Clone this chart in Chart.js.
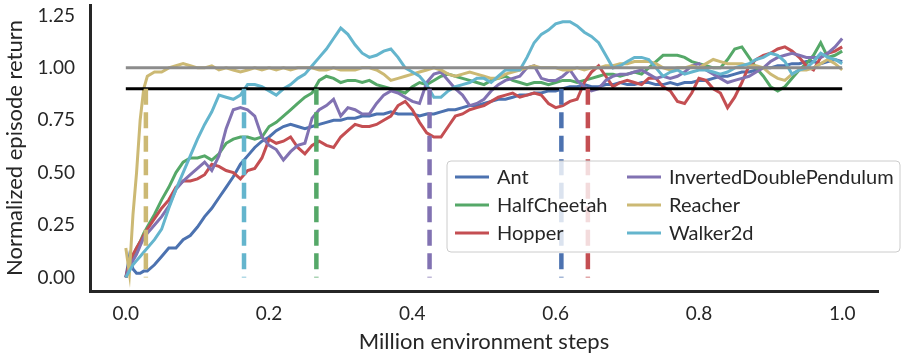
<!DOCTYPE html>
<html>
<head>
<meta charset="utf-8">
<script src="https://cdn.jsdelivr.net/npm/chart.js@4/dist/chart.umd.min.js"></script>
<style>
  html, body { margin: 0; padding: 0; background: #fff; }
  #wrap { width: 903px; height: 357px; position: relative; }
</style>
</head>
<body>
<div id="wrap"><canvas id="chart" width="903" height="357"></canvas></div>
<script>
// ==== DATA ====
const steps = [0, 0.005, 0.01, 0.015, 0.02, 0.025, 0.03,
  0.04, 0.05, 0.06, 0.07, 0.08, 0.09, 0.10, 0.11, 0.12, 0.13, 0.14, 0.15, 0.16, 0.17, 0.18, 0.19,
  0.20, 0.21, 0.22, 0.23, 0.24, 0.25, 0.26, 0.27, 0.28, 0.29, 0.30, 0.31, 0.32, 0.33, 0.34, 0.35,
  0.36, 0.37, 0.38, 0.39, 0.40, 0.41, 0.42, 0.43, 0.44, 0.45, 0.46, 0.47, 0.48, 0.49, 0.50, 0.51,
  0.52, 0.53, 0.54, 0.55, 0.56, 0.57, 0.58, 0.59, 0.60, 0.61, 0.62, 0.63, 0.64, 0.65, 0.66, 0.67,
  0.68, 0.69, 0.70, 0.71, 0.72, 0.73, 0.74, 0.75, 0.76, 0.77, 0.78, 0.79, 0.80, 0.81, 0.82, 0.83,
  0.84, 0.85, 0.86, 0.87, 0.88, 0.89, 0.90, 0.91, 0.92, 0.93, 0.94, 0.95, 0.96, 0.97, 0.98, 0.99, 1.00];

const ant = [0.00, 0.10, 0.04, 0.02, 0.02, 0.03, 0.03,
  0.06, 0.10, 0.14, 0.14, 0.18, 0.20, 0.24, 0.29, 0.33, 0.38, 0.43, 0.48, 0.54, 0.58, 0.62, 0.65,
  0.67, 0.70, 0.72, 0.73, 0.72, 0.71, 0.72, 0.73, 0.74, 0.75, 0.75, 0.76, 0.76, 0.77, 0.77, 0.78,
  0.78, 0.79, 0.78, 0.78, 0.78, 0.77, 0.78, 0.78, 0.79, 0.80, 0.80, 0.81, 0.82, 0.82, 0.83, 0.84,
  0.85, 0.85, 0.86, 0.87, 0.87, 0.88, 0.88, 0.89, 0.89, 0.90, 0.91, 0.91, 0.92, 0.91, 0.91, 0.92,
  0.92, 0.93, 0.92, 0.92, 0.93, 0.93, 0.92, 0.92, 0.93, 0.92, 0.93, 0.93, 0.94, 0.94, 0.95, 0.96,
  0.96, 0.97, 0.98, 0.98, 0.99, 1.00, 1.00, 1.01, 1.01, 1.02, 1.02, 1.03, 1.03, 1.02, 1.03, 1.04, 1.03];

const halfCheetah = [0.00, 0.04, 0.10, 0.14, 0.17, 0.21, 0.24,
  0.30, 0.37, 0.43, 0.50, 0.55, 0.57, 0.57, 0.58, 0.56, 0.59, 0.64, 0.66, 0.67, 0.67, 0.66, 0.67,
  0.72, 0.74, 0.77, 0.80, 0.83, 0.86, 0.88, 0.94, 0.96, 0.95, 0.93, 0.94, 0.94, 0.93, 0.94, 0.92,
  0.91, 0.90, 0.89, 0.88, 0.91, 0.93, 0.92, 0.94, 0.96, 0.97, 0.96, 0.95, 0.94, 0.93, 0.92, 0.94,
  0.95, 0.96, 0.94, 0.93, 0.92, 0.93, 0.93, 0.92, 0.93, 0.94, 0.94, 0.93, 0.94, 0.95, 0.96, 0.97,
  0.97, 0.96, 0.97, 0.98, 0.97, 1.00, 1.03, 1.06, 1.06, 1.06, 1.05, 1.03, 1.02, 1.01, 1.00, 1.00,
  1.04, 1.09, 1.10, 1.05, 1.00, 0.96, 0.91, 0.89, 0.91, 0.95, 0.99, 1.02, 1.06, 1.12, 1.05, 1.06, 1.08];

const hopper = [0.00, 0.07, 0.11, 0.14, 0.17, 0.20, 0.23,
  0.28, 0.33, 0.37, 0.43, 0.46, 0.46, 0.47, 0.49, 0.54, 0.53, 0.51, 0.50, 0.47, 0.51, 0.52, 0.57,
  0.66, 0.64, 0.65, 0.67, 0.62, 0.59, 0.63, 0.65, 0.63, 0.62, 0.67, 0.70, 0.73, 0.72, 0.72, 0.73,
  0.75, 0.77, 0.82, 0.84, 0.80, 0.74, 0.69, 0.67, 0.67, 0.72, 0.77, 0.78, 0.80, 0.81, 0.82, 0.84,
  0.86, 0.87, 0.88, 0.86, 0.87, 0.88, 0.87, 0.83, 0.81, 0.82, 0.84, 0.85, 0.93, 0.98, 1.01, 0.96,
  0.91, 0.93, 0.94, 0.93, 0.92, 0.95, 0.95, 0.91, 0.89, 0.84, 0.83, 0.88, 0.95, 0.94, 0.90, 0.88,
  0.81, 0.86, 0.93, 1.01, 1.04, 1.06, 1.07, 1.09, 1.10, 1.08, 1.05, 1.01, 0.99, 1.05, 1.07, 1.08, 1.10];

const invertedDoublePendulum = [0.00, 0.05, 0.08, 0.11, 0.15, 0.19, 0.21,
  0.25, 0.29, 0.34, 0.42, 0.46, 0.49, 0.52, 0.55, 0.51, 0.58, 0.71, 0.80, 0.81, 0.80, 0.77, 0.67,
  0.63, 0.61, 0.56, 0.60, 0.63, 0.64, 0.76, 0.80, 0.82, 0.85, 0.77, 0.81, 0.80, 0.78, 0.78, 0.83,
  0.87, 0.89, 0.88, 0.86, 0.84, 0.83, 0.93, 0.97, 0.98, 0.94, 0.90, 0.87, 0.82, 0.83, 0.85, 0.89,
  0.92, 0.94, 0.95, 0.96, 1.00, 1.01, 0.95, 0.94, 0.94, 0.96, 0.99, 0.94, 0.91, 0.89, 0.90, 0.94,
  0.96, 0.97, 0.97, 0.98, 0.99, 0.97, 0.95, 0.96, 0.95, 0.96, 0.98, 1.01, 1.02, 0.99, 0.97, 0.95,
  0.93, 0.94, 0.95, 0.96, 0.98, 1.00, 1.03, 1.05, 1.06, 1.07, 1.06, 1.05, 1.05, 1.05, 1.07, 1.10, 1.14];

const reacher = [0.14, 0.02, 0.30, 0.50, 0.75, 0.90, 0.96,
  0.98, 0.98, 1.00, 1.01, 1.02, 1.01, 1.00, 1.00, 1.01, 0.99, 1.00, 0.99, 0.98, 0.99, 1.00, 0.99,
  1.00, 0.99, 1.00, 0.99, 1.00, 1.00, 1.00, 0.99, 0.99, 1.00, 0.99, 0.99, 0.99, 1.00, 1.00, 0.99,
  0.97, 0.94, 0.95, 0.96, 0.97, 0.98, 0.99, 1.00, 0.99, 0.97, 0.96, 0.97, 0.98, 0.97, 0.96, 0.95,
  0.95, 0.97, 0.98, 0.99, 1.00, 1.01, 1.00, 1.00, 1.00, 0.99, 0.99, 1.00, 0.99, 1.00, 1.00, 1.01,
  1.01, 1.02, 1.02, 1.03, 1.03, 1.03, 1.02, 1.00, 0.99, 1.00, 1.00, 1.01, 1.00, 1.02, 1.04, 1.03,
  1.02, 1.02, 1.02, 1.01, 1.01, 1.00, 0.97, 0.95, 0.94, 0.97, 0.99, 0.99, 1.00, 1.02, 1.04, 1.02, 0.99];

const walker2d = [0.00, 0.03, 0.06, 0.08, 0.10, 0.12, 0.14,
  0.18, 0.23, 0.33, 0.42, 0.50, 0.58, 0.66, 0.73, 0.79, 0.87, 0.86, 0.85, 0.87, 0.92, 0.92, 0.91,
  0.89, 0.87, 0.90, 0.92, 0.95, 0.97, 1.01, 1.05, 1.09, 1.14, 1.19, 1.16, 1.11, 1.07, 1.05, 1.06,
  1.08, 1.09, 1.05, 1.00, 0.98, 0.96, 0.92, 0.86, 0.86, 0.89, 0.91, 0.92, 0.93, 0.95, 0.95, 0.93,
  0.96, 0.99, 0.99, 0.99, 1.05, 1.12, 1.16, 1.18, 1.21, 1.22, 1.22, 1.20, 1.17, 1.15, 1.12, 1.06,
  1.00, 1.01, 1.03, 1.05, 1.05, 1.04, 1.00, 0.96, 0.98, 0.99, 0.97, 0.98, 0.99, 0.99, 0.98, 0.97,
  0.98, 1.00, 1.01, 1.02, 1.04, 1.05, 1.07, 1.06, 1.03, 0.97, 0.99, 1.00, 1.03, 1.07, 1.05, 1.04, 1.02];

const envNames  = ['Ant', 'HalfCheetah', 'Hopper', 'InvertedDoublePendulum', 'Reacher', 'Walker2d'];
const envColors = ['#4C72B0', '#55A868', '#C44E52', '#8172B2', '#CCB974', '#64B5CD'];
const envSeries = [ant, halfCheetah, hopper, invertedDoublePendulum, reacher, walker2d];

// step at which each env first reaches 90% of final return (dashed markers)
const reach90 = [0.608, 0.645, 0.424, 0.266, 0.165, 0.028];
const reach90Names = ['Ant', 'Hopper', 'InvertedDoublePendulum', 'HalfCheetah', 'Walker2d', 'Reacher'];

const refLevels = [1.0, 0.9];
const refColors = ['#8c8c8c', '#000000'];

const xTicks = [0.0, 0.2, 0.4, 0.6, 0.8, 1.0];
const yTicks = [0.00, 0.25, 0.50, 0.75, 1.00, 1.25];

// ==== DATASETS ====
const FONT = 'Lato';
const TEXT = '#262626';
const datasets = [];

envSeries.forEach((vals, i) => {
  datasets.push({
    label: envNames[i],
    data: vals.map((v, k) => ({ x: steps[k], y: v })),
    borderColor: envColors[i],
    borderWidth: 3,
    pointRadius: 0,
    tension: 0,
    order: 20 - i
  });
});

refLevels.forEach((lvl, i) => {
  datasets.push({
    label: '_ref' + i,
    data: [{ x: steps[0], y: lvl }, { x: steps[steps.length - 1], y: lvl }],
    borderColor: refColors[i],
    borderWidth: 3,
    pointRadius: 0,
    order: 5 - i
  });
});

reach90.forEach((sx, i) => {
  const c = envColors[envNames.indexOf(reach90Names[i])];
  datasets.push({
    label: '_mark' + i,
    data: [{ x: sx, y: refLevels[1] }, { x: sx, y: 0 }],
    borderColor: c,
    borderWidth: 4.5,
    borderDash: [16, 7.5],
    pointRadius: 0,
    order: 1
  });
});

// ==== LEGEND (inside axes, two columns) ====
const innerLegend = {
  id: 'innerLegend',
  afterDatasetsDraw(chart) {
    const { ctx, chartArea } = chart;
    const bx = chartArea.left + 357, by = chartArea.top + 156;
    const bw = 453, bh = 91;
    ctx.save();
    ctx.beginPath();
    ctx.roundRect(bx, by, bw, bh, 4);
    ctx.fillStyle = 'rgba(255,255,255,0.8)';
    ctx.fill();
    ctx.strokeStyle = '#cccccc';
    ctx.lineWidth = 1;
    ctx.stroke();
    ctx.font = '20px ' + FONT;
    ctx.textBaseline = 'middle';
    ctx.fillStyle = TEXT;
    envNames.forEach((name, i) => {
      const col = Math.floor(i / 3), row = i % 3;
      const hx = bx + 8 + col * 172;
      const hy = by + 16 + row * 28;
      ctx.beginPath();
      ctx.moveTo(hx, hy);
      ctx.lineTo(hx + 34, hy);
      ctx.strokeStyle = envColors[i];
      ctx.lineWidth = 3;
      ctx.stroke();
      ctx.fillText(name, hx + 42, hy + 1);
    });
    ctx.restore();
  }
};

// ==== CHART ====
new Chart(document.getElementById('chart'), {
  type: 'line',
  data: { datasets },
  plugins: [innerLegend],
  options: {
    responsive: false,
    animation: false,
    layout: { padding: { top: 5, right: 25, left: 0, bottom: 0 } },
    plugins: { legend: { display: false }, tooltip: { enabled: false } },
    scales: {
      x: {
        type: 'linear',
        min: -0.05, max: 1.05,
        afterBuildTicks: s => { s.ticks = xTicks.map(v => ({ value: v })); },
        afterFit: s => { s.height = 66; s.paddingLeft = 0; s.paddingRight = 0; },
        grid: { display: false, drawTicks: false },
        border: { display: true, color: TEXT, width: 3 },
        ticks: { font: { family: FONT, size: 19 }, color: TEXT, padding: 11,
                 callback: v => Number(v).toFixed(1) },
        title: { display: true, text: 'Million environment steps',
                 font: { family: FONT, size: 22 }, color: TEXT, padding: { top: 4, bottom: 2 } }
      },
      y: {
        type: 'linear',
        min: -0.065, max: 1.3,
        afterBuildTicks: s => { s.ticks = yTicks.map(v => ({ value: v })); },
        afterFit: s => { s.width = 90; s.paddingTop = 0; s.paddingBottom = 0; },
        grid: { display: false, drawTicks: false },
        border: { display: true, color: TEXT, width: 3 },
        ticks: { font: { family: FONT, size: 19 }, color: TEXT, padding: 15,
                 callback: v => Number(v).toFixed(2) },
        title: { display: true, text: 'Normalized episode return',
                 font: { family: FONT, size: 22 }, color: TEXT, padding: { top: 2, bottom: 4 } }
      }
    }
  }
});
</script>
</body>
</html>
